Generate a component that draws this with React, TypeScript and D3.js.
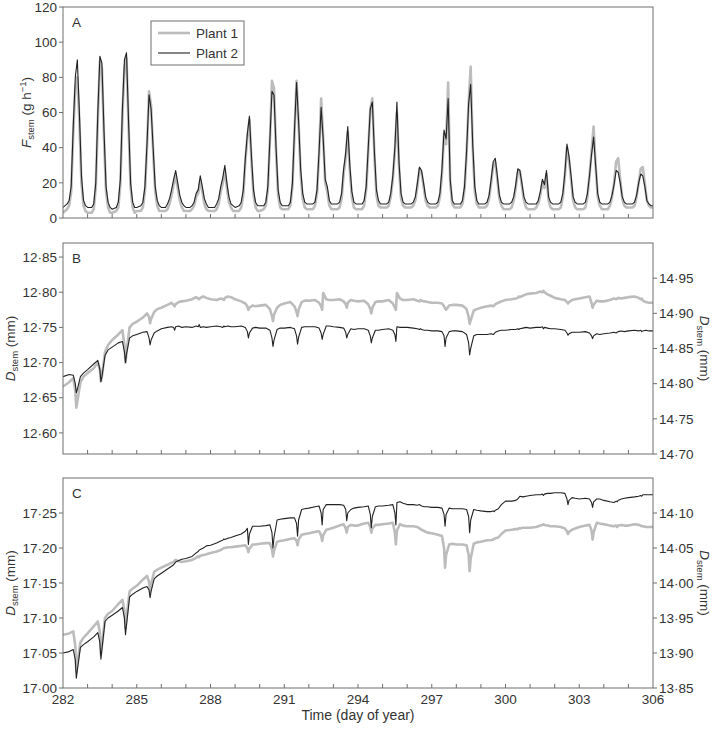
import React from 'react';
import * as d3 from 'd3';

// day of year for each row of the data tables below
const days = [282, 283, 284, 285, 286, 287, 288, 289, 290, 291, 292, 293, 294, 295, 296, 297, 298, 299, 300, 301, 302, 303, 304, 305];
const endDay = 306;

// hour of day of each value in a row
const hoursFlow = [0, 4, 6, 8, 10, 12, 14, 16, 18, 20, 22];
const hoursDiam = [0, 6, 10, 12, 13, 14, 17, 20];

// A: sap flow (g h-1)
const flowP1 = [
  [3, 5, 7, 15, 48, 74, 80, 55, 20, 7, 4],
  [3, 3, 5, 17, 56, 89, 85, 46, 15, 6, 3],
  [3, 4, 6, 19, 58, 86, 91, 52, 17, 6, 3],
  [4, 4, 6, 15, 40, 72, 64, 38, 15, 7, 4],
  [4, 4, 5, 8, 13, 19, 24, 17, 10, 6, 4],
  [4, 4, 5, 7, 12, 14, 21, 15, 8, 5, 4],
  [4, 4, 5, 8, 15, 20, 27, 17, 9, 6, 4],
  [4, 4, 6, 13, 32, 46, 56, 32, 13, 6, 4],
  [4, 5, 7, 16, 44, 78, 74, 38, 13, 6, 5],
  [5, 5, 7, 18, 48, 78, 54, 25, 11, 6, 5],
  [5, 5, 7, 14, 36, 68, 46, 20, 15, 7, 5],
  [5, 5, 6, 11, 25, 34, 49, 27, 12, 6, 5],
  [5, 5, 7, 16, 38, 62, 68, 36, 13, 7, 6],
  [6, 6, 7, 12, 22, 38, 60, 30, 11, 7, 6],
  [6, 6, 7, 10, 18, 28, 26, 18, 10, 7, 6],
  [6, 6, 7, 12, 25, 48, 42, 77, 20, 8, 6],
  [6, 6, 8, 16, 36, 66, 86, 40, 15, 8, 6],
  [6, 6, 7, 11, 20, 30, 32, 22, 11, 7, 5],
  [5, 5, 6, 10, 17, 26, 27, 18, 10, 6, 5],
  [5, 5, 6, 8, 13, 20, 17, 25, 10, 6, 5],
  [5, 5, 6, 12, 24, 40, 33, 22, 10, 6, 5],
  [5, 5, 6, 12, 24, 38, 52, 30, 12, 7, 5],
  [5, 5, 7, 12, 20, 32, 34, 22, 11, 7, 6],
  [6, 6, 7, 12, 20, 28, 29, 20, 10, 7, 6],
];
const flowP1End = 6;

const flowP2 = [
  [6, 8, 10, 18, 52, 80, 90, 60, 24, 10, 7],
  [6, 6, 8, 20, 60, 92, 88, 50, 18, 9, 6],
  [5, 6, 9, 22, 62, 90, 94, 55, 20, 9, 6],
  [6, 7, 9, 18, 42, 70, 62, 40, 18, 10, 7],
  [6, 6, 8, 11, 16, 22, 27, 20, 13, 9, 7],
  [6, 6, 7, 9, 14, 16, 24, 18, 11, 8, 6],
  [6, 6, 8, 11, 18, 23, 30, 20, 12, 8, 7],
  [6, 7, 9, 16, 34, 48, 58, 35, 16, 9, 7],
  [7, 7, 9, 18, 45, 72, 70, 40, 16, 9, 7],
  [7, 7, 9, 20, 50, 77, 55, 28, 14, 9, 8],
  [8, 8, 9, 16, 38, 63, 45, 22, 18, 10, 8],
  [8, 8, 9, 14, 28, 37, 52, 30, 15, 9, 8],
  [8, 8, 10, 18, 40, 62, 66, 38, 16, 10, 8],
  [8, 8, 9, 14, 24, 40, 66, 32, 14, 9, 8],
  [8, 8, 9, 12, 20, 29, 27, 20, 12, 9, 8],
  [8, 8, 9, 14, 28, 50, 45, 68, 22, 10, 8],
  [8, 8, 10, 18, 38, 65, 76, 42, 18, 10, 8],
  [8, 8, 9, 13, 22, 32, 34, 24, 13, 9, 8],
  [8, 8, 9, 12, 19, 28, 27, 20, 12, 9, 8],
  [8, 8, 8, 10, 15, 22, 19, 27, 12, 9, 8],
  [8, 8, 9, 14, 26, 42, 35, 24, 12, 9, 8],
  [8, 8, 9, 14, 24, 36, 46, 30, 14, 9, 8],
  [8, 8, 9, 13, 19, 27, 26, 20, 12, 9, 8],
  [8, 8, 9, 13, 20, 25, 24, 18, 10, 8, 7],
];
const flowP2End = 7;

// B: stem diameter (mm), plant 1 on left axis, plant 2 on right axis
const diamB1 = [
  [12.666, 12.672, 12.678, 12.66, 12.636, 12.645, 12.672, 12.68],
  [12.685, 12.692, 12.7, 12.69, 12.673, 12.68, 12.715, 12.725],
  [12.732, 12.74, 12.746, 12.725, 12.7, 12.715, 12.75, 12.755],
  [12.758, 12.764, 12.77, 12.765, 12.756, 12.762, 12.772, 12.776],
  [12.778, 12.782, 12.785, 12.782, 12.78, 12.783, 12.786, 12.787],
  [12.788, 12.79, 12.793, 12.791, 12.79, 12.792, 12.794, 12.792],
  [12.79, 12.789, 12.791, 12.79, 12.789, 12.792, 12.794, 12.793],
  [12.79, 12.787, 12.784, 12.78, 12.775, 12.778, 12.781, 12.78],
  [12.781, 12.782, 12.776, 12.766, 12.759, 12.768, 12.778, 12.782],
  [12.784, 12.786, 12.78, 12.772, 12.766, 12.775, 12.786, 12.788],
  [12.788, 12.789, 12.785, 12.78, 12.775, 12.799, 12.79, 12.789],
  [12.789, 12.79, 12.787, 12.783, 12.778, 12.785, 12.789, 12.788],
  [12.787, 12.788, 12.783, 12.776, 12.77, 12.778, 12.786, 12.787],
  [12.787, 12.789, 12.784, 12.778, 12.775, 12.799, 12.791, 12.789],
  [12.789, 12.79, 12.788, 12.787, 12.789, 12.788, 12.787, 12.786],
  [12.785, 12.785, 12.784, 12.78, 12.777, 12.775, 12.781, 12.782],
  [12.782, 12.781, 12.776, 12.765, 12.755, 12.76, 12.774, 12.776],
  [12.778, 12.78, 12.781, 12.78, 12.781, 12.783, 12.785, 12.787],
  [12.789, 12.79, 12.791, 12.792, 12.794, 12.793, 12.795, 12.797],
  [12.798, 12.799, 12.801, 12.8, 12.802, 12.8, 12.797, 12.795],
  [12.792, 12.79, 12.789, 12.786, 12.784, 12.786, 12.789, 12.79],
  [12.791, 12.793, 12.794, 12.785, 12.778, 12.782, 12.788, 12.787],
  [12.787, 12.789, 12.791, 12.79, 12.791, 12.792, 12.791, 12.792],
  [12.793, 12.794, 12.792, 12.79, 12.791, 12.788, 12.786, 12.785],
];
const diamB1End = 12.785;

const diamB2 = [
  [14.81, 14.813, 14.812, 14.8, 14.787, 14.792, 14.81, 14.815],
  [14.82, 14.828, 14.833, 14.82, 14.803, 14.81, 14.84, 14.848],
  [14.852, 14.858, 14.86, 14.845, 14.83, 14.842, 14.865, 14.868],
  [14.87, 14.873, 14.874, 14.865, 14.855, 14.862, 14.872, 14.875],
  [14.878, 14.88, 14.881, 14.88, 14.876, 14.881, 14.882, 14.88],
  [14.881, 14.88, 14.882, 14.881, 14.884, 14.88, 14.881, 14.88],
  [14.881, 14.882, 14.881, 14.88, 14.882, 14.881, 14.882, 14.881],
  [14.881, 14.882, 14.88, 14.874, 14.865, 14.872, 14.879, 14.88],
  [14.879, 14.879, 14.876, 14.865, 14.853, 14.862, 14.877, 14.879],
  [14.879, 14.88, 14.878, 14.868, 14.856, 14.866, 14.88, 14.881],
  [14.881, 14.881, 14.879, 14.872, 14.863, 14.87, 14.882, 14.882],
  [14.881, 14.88, 14.879, 14.873, 14.865, 14.87, 14.878, 14.877],
  [14.878, 14.878, 14.876, 14.868, 14.858, 14.865, 14.876, 14.876],
  [14.877, 14.878, 14.876, 14.87, 14.86, 14.881, 14.88, 14.88],
  [14.88, 14.879, 14.878, 14.877, 14.878, 14.877, 14.876, 14.876],
  [14.875, 14.875, 14.874, 14.868, 14.853, 14.865, 14.874, 14.875],
  [14.875, 14.874, 14.87, 14.858, 14.841, 14.85, 14.868, 14.87],
  [14.87, 14.87, 14.871, 14.87, 14.871, 14.873, 14.875, 14.876],
  [14.876, 14.877, 14.877, 14.878, 14.877, 14.878, 14.879, 14.88],
  [14.879, 14.88, 14.88, 14.881, 14.878, 14.88, 14.879, 14.878],
  [14.878, 14.877, 14.876, 14.872, 14.869, 14.871, 14.873, 14.873],
  [14.873, 14.874, 14.872, 14.868, 14.864, 14.868, 14.871, 14.87],
  [14.871, 14.872, 14.873, 14.872, 14.873, 14.874, 14.875, 14.874],
  [14.875, 14.876, 14.875, 14.876, 14.874, 14.875, 14.876, 14.875],
];
const diamB2End = 14.875;

// C: stem diameter (mm), plant 1 on left axis, plant 2 on right axis
const diamC1 = [
  [17.076, 17.078, 17.081, 17.06, 17.024, 17.035, 17.065, 17.072],
  [17.078, 17.088, 17.095, 17.08, 17.048, 17.06, 17.1, 17.106],
  [17.11, 17.12, 17.126, 17.11, 17.086, 17.1, 17.138, 17.142],
  [17.146, 17.155, 17.16, 17.152, 17.138, 17.148, 17.166, 17.169],
  [17.172, 17.176, 17.179, 17.18, 17.182, 17.183, 17.181, 17.18],
  [17.181, 17.183, 17.186, 17.188, 17.187, 17.189, 17.19, 17.191],
  [17.193, 17.195, 17.197, 17.199, 17.2, 17.2, 17.201, 17.201],
  [17.202, 17.203, 17.204, 17.2, 17.194, 17.199, 17.205, 17.205],
  [17.206, 17.207, 17.207, 17.198, 17.188, 17.196, 17.209, 17.21],
  [17.211, 17.213, 17.214, 17.21, 17.204, 17.212, 17.219, 17.22],
  [17.221, 17.223, 17.224, 17.218, 17.21, 17.218, 17.226, 17.227],
  [17.229, 17.232, 17.234, 17.228, 17.222, 17.23, 17.233, 17.232],
  [17.232, 17.235, 17.236, 17.23, 17.222, 17.228, 17.233, 17.233],
  [17.234, 17.235, 17.236, 17.222, 17.205, 17.225, 17.234, 17.232],
  [17.231, 17.231, 17.23, 17.228, 17.227, 17.226, 17.224, 17.222],
  [17.221, 17.219, 17.217, 17.2, 17.172, 17.19, 17.205, 17.206],
  [17.205, 17.205, 17.204, 17.19, 17.167, 17.185, 17.206, 17.208],
  [17.209, 17.211, 17.211, 17.212, 17.213, 17.214, 17.215, 17.22],
  [17.225, 17.226, 17.227, 17.227, 17.228, 17.228, 17.229, 17.229],
  [17.229, 17.23, 17.232, 17.233, 17.234, 17.233, 17.232, 17.231],
  [17.231, 17.23, 17.228, 17.224, 17.22, 17.223, 17.226, 17.228],
  [17.23, 17.232, 17.233, 17.225, 17.212, 17.222, 17.236, 17.235],
  [17.234, 17.232, 17.231, 17.232, 17.23, 17.232, 17.233, 17.232],
  [17.232, 17.234, 17.233, 17.232, 17.231, 17.231, 17.23, 17.23],
];
const diamC1End = 17.23;

const diamC2 = [
  [13.9, 13.902, 13.905, 13.89, 13.864, 13.875, 13.908, 13.912],
  [13.916, 13.923, 13.929, 13.915, 13.891, 13.905, 13.945, 13.95],
  [13.954, 13.96, 13.965, 13.95, 13.926, 13.94, 13.98, 13.984],
  [13.988, 13.993, 13.995, 13.99, 13.979, 13.988, 14.006, 14.01],
  [14.014, 14.02, 14.024, 14.026, 14.028, 14.03, 14.032, 14.034],
  [14.035, 14.038, 14.043, 14.045, 14.047, 14.048, 14.05, 14.053],
  [14.054, 14.057, 14.06, 14.061, 14.063, 14.062, 14.064, 14.065],
  [14.067, 14.07, 14.074, 14.078, 14.055, 14.07, 14.081, 14.081],
  [14.081, 14.082, 14.083, 14.072, 14.05, 14.065, 14.09, 14.091],
  [14.092, 14.093, 14.093, 14.085, 14.067, 14.09, 14.105, 14.106],
  [14.107, 14.109, 14.11, 14.1, 14.083, 14.105, 14.112, 14.112],
  [14.112, 14.112, 14.111, 14.105, 14.089, 14.1, 14.105, 14.107],
  [14.108, 14.109, 14.11, 14.098, 14.079, 14.095, 14.109, 14.11],
  [14.11, 14.111, 14.112, 14.1, 14.083, 14.115, 14.116, 14.114],
  [14.112, 14.112, 14.111, 14.112, 14.111, 14.11, 14.109, 14.109],
  [14.108, 14.108, 14.107, 14.098, 14.081, 14.098, 14.107, 14.106],
  [14.106, 14.106, 14.105, 14.095, 14.072, 14.09, 14.105, 14.104],
  [14.103, 14.102, 14.102, 14.103, 14.102, 14.104, 14.106, 14.112],
  [14.117, 14.117, 14.118, 14.12, 14.122, 14.124, 14.123, 14.124],
  [14.125, 14.126, 14.126, 14.127, 14.125, 14.127, 14.128, 14.128],
  [14.129, 14.129, 14.128, 14.12, 14.112, 14.118, 14.122, 14.121],
  [14.12, 14.121, 14.12, 14.115, 14.108, 14.116, 14.12, 14.12],
  [14.118, 14.116, 14.115, 14.117, 14.116, 14.118, 14.12, 14.121],
  [14.122, 14.123, 14.124, 14.125, 14.124, 14.126, 14.126, 14.126],
];
const diamC2End = 14.126;

const flowTicks = [0, 20, 40, 60, 80, 100, 120];
const diamBLeftTicks = [12.6, 12.65, 12.7, 12.75, 12.8, 12.85];
const diamBRightTicks = [14.7, 14.75, 14.8, 14.85, 14.9, 14.95];
const diamCLeftTicks = [17.0, 17.05, 17.1, 17.15, 17.2, 17.25];
const diamCRightTicks = [13.85, 13.9, 13.95, 14.0, 14.05, 14.1];
const dayLabels = [282, 285, 288, 291, 294, 297, 300, 303, 306];

const GRAY = '#bcbcbc';
const DARK = '#222';
const FRAME = '#6e6e6e';
const TEXT = '#333';
const FONT = 'Liberation Sans, Arial, sans-serif';
const FS = 13.5;

const X0 = 63;
const X1 = 653;

type Pt = [number, number];

const toPoints = (rows: number[][], hours: number[], last: number): Pt[] => {
  const pts: Pt[] = [];
  rows.forEach((row, i) => {
    row.forEach((v, j) => pts.push([days[i] + hours[j] / 24, v]));
  });
  pts.push([endDay, last]);
  return pts;
};

const fmt = (v: number) => v.toFixed(2).replace('.', '\u00b7');

const x = d3.scaleLinear().domain([282, 306]).range([X0, X1]);

const DLabel = ({ cx, cy, rot }: { cx: number; cy: number; rot: number }) => (
  <text transform={`translate(${cx},${cy}) rotate(${rot})`} textAnchor="middle" fontSize={FS} fill={TEXT}>
    <tspan fontStyle="italic">D</tspan>
    <tspan fontSize={9.5} dy={3}>stem</tspan>
    <tspan dy={-3}> (mm)</tspan>
  </text>
);

const Panel = ({
  top, bottom, letter, yl, yr, ticksL, ticksR, fmtL, s1, s2, s1Right, s2Right, showX,
}: any) => {
  const line1 = d3.line<Pt>().x(d => x(d[0])).y(d => (s1Right ? yr : yl)(d[1]));
  const line2 = d3.line<Pt>().x(d => x(d[0])).y(d => (s2Right ? yr : yl)(d[1]));
  const minor = d3.range(283, 306);
  return (
    <g>
      <defs>
        <clipPath id={`clip${letter}`}>
          <rect x={X0} y={top} width={X1 - X0} height={bottom - top} />
        </clipPath>
      </defs>
      <g clipPath={`url(#clip${letter})`}>
        <path d={line1(s1) || ''} fill="none" stroke={GRAY} strokeWidth={2.6} strokeLinejoin="round" />
        <path d={line2(s2) || ''} fill="none" stroke={DARK} strokeWidth={1.1} strokeLinejoin="round" />
      </g>
      <rect x={X0} y={top} width={X1 - X0} height={bottom - top} fill="none" stroke={FRAME} strokeWidth={1} />
      {minor.map(d => (
        <line key={d} x1={x(d)} x2={x(d)} y1={bottom} y2={bottom - 4} stroke={FRAME} />
      ))}
      {ticksL.map((t: number) => (
        <g key={`l${t}`}>
          <line x1={X0 - 4} x2={X0} y1={yl(t)} y2={yl(t)} stroke={FRAME} />
          <text x={X0 - 6} y={yl(t)} dy="0.35em" textAnchor="end" fontSize={FS} fill={TEXT}>{fmtL(t)}</text>
        </g>
      ))}
      {ticksR && ticksR.map((t: number) => (
        <g key={`r${t}`}>
          <line x1={X1} x2={X1 + 4} y1={yr(t)} y2={yr(t)} stroke={FRAME} />
          <text x={X1 + 6} y={yr(t)} dy="0.35em" textAnchor="start" fontSize={FS} fill={TEXT}>{fmt(t)}</text>
        </g>
      ))}
      {showX && dayLabels.map(d => (
        <text key={d} x={x(d)} y={bottom + 16} textAnchor="middle" fontSize={FS} fill={TEXT}>{d}</text>
      ))}
      <text x={X0 + 9} y={top + 20} fontSize={FS} fill={TEXT}>{letter}</text>
    </g>
  );
};

export default function App() {
  const aTop = 7, aBot = 218, bTop = 243, bBot = 454, cTop = 478, cBot = 688;
  const yA = d3.scaleLinear().domain([0, 120]).range([aBot, aTop]);
  const yBL = d3.scaleLinear().domain([12.57, 12.87]).range([bBot, bTop]);
  const yBR = d3.scaleLinear().domain([14.7, 15.0]).range([bBot, bTop]);
  const yCL = d3.scaleLinear().domain([17.0, 17.3]).range([cBot, cTop]);
  const yCR = d3.scaleLinear().domain([13.85, 14.15]).range([cBot, cTop]);

  return (
    <svg width={717} height={729} style={{ position: 'absolute', left: 0, top: 0, background: '#fff' }} fontFamily={FONT}>
      <Panel top={aTop} bottom={aBot} letter="A" yl={yA} yr={yA} ticksL={flowTicks} fmtL={(t: number) => String(t)}
        s1={toPoints(flowP1, hoursFlow, flowP1End)} s2={toPoints(flowP2, hoursFlow, flowP2End)} />
      <Panel top={bTop} bottom={bBot} letter="B" yl={yBL} yr={yBR} ticksL={diamBLeftTicks} ticksR={diamBRightTicks} fmtL={fmt}
        s1={toPoints(diamB1, hoursDiam, diamB1End)} s2={toPoints(diamB2, hoursDiam, diamB2End)} s2Right />
      <Panel top={cTop} bottom={cBot} letter="C" yl={yCL} yr={yCR} ticksL={diamCLeftTicks} ticksR={diamCRightTicks} fmtL={fmt}
        s1={toPoints(diamC1, hoursDiam, diamC1End)} s2={toPoints(diamC2, hoursDiam, diamC2End)} s2Right showX />

      {/* legend */}
      <rect x={151} y={21} width={93} height={44} fill="#fff" stroke={FRAME} />
      <line x1={158} x2={190} y1={33} y2={33} stroke={GRAY} strokeWidth={2.6} />
      <text x={196} y={33} dy="0.35em" fontSize={FS} fill={TEXT}>Plant 1</text>
      <line x1={158} x2={190} y1={53} y2={53} stroke={DARK} strokeWidth={1.1} />
      <text x={196} y={53} dy="0.35em" fontSize={FS} fill={TEXT}>Plant 2</text>

      {/* axis titles */}
      <text transform={`translate(31,${(aTop + aBot) / 2}) rotate(-90)`} textAnchor="middle" fontSize={FS} fill={TEXT}>
        <tspan fontStyle="italic">F</tspan>
        <tspan fontSize={9.5} dy={3}>stem</tspan>
        <tspan dy={-3}> (g h</tspan>
        <tspan fontSize={9.5} dy={-5}>{'\u22121'}</tspan>
        <tspan dy={5}>)</tspan>
      </text>
      <DLabel cx={15} cy={(bTop + bBot) / 2} rot={-90} />
      <DLabel cx={15} cy={(cTop + cBot) / 2} rot={-90} />
      <DLabel cx={700} cy={(bTop + bBot) / 2} rot={90} />
      <DLabel cx={700} cy={(cTop + cBot) / 2} rot={90} />
      <text x={358} y={720} textAnchor="middle" fontSize={14} fill={TEXT}>Time (day of year)</text>
    </svg>
  );
}
